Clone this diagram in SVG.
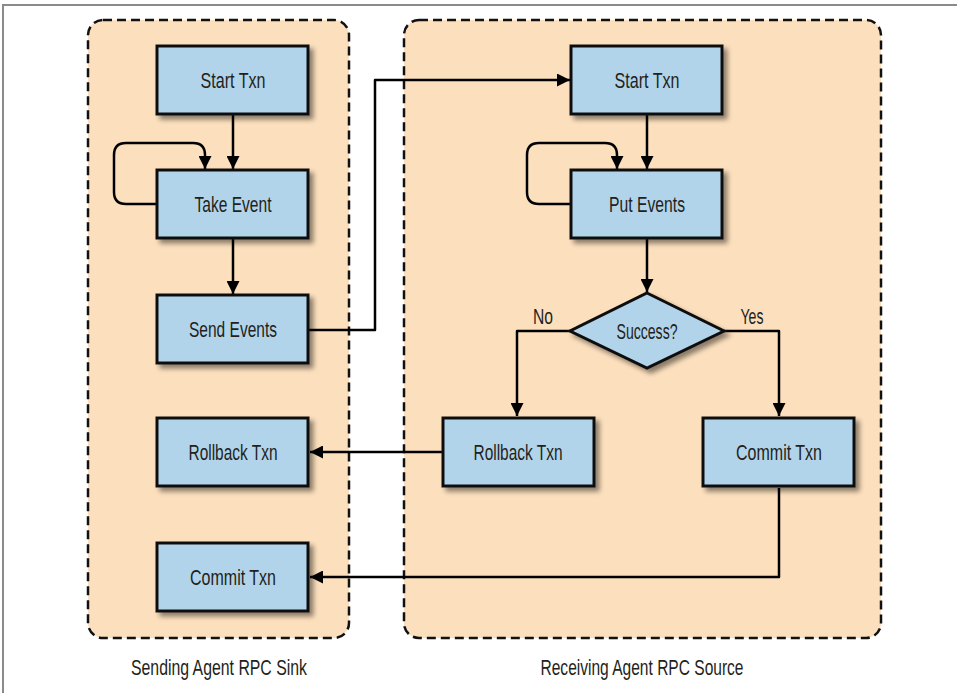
<svg xmlns="http://www.w3.org/2000/svg" width="957" height="693" viewBox="0 0 957 693">
<style>
.frame{fill:none;stroke:#8a8a8a;stroke-width:2}
.grp{fill:#fcdfbd;stroke:#111;stroke-width:2.5;stroke-dasharray:9 5}
.box{fill:#b2d4ea;stroke:#111;stroke-width:3}
.t{font-family:"Liberation Sans Narrow","Liberation Sans",Arial,sans-serif;font-size:22px;fill:#231f20;text-anchor:middle}
.c{fill:none;stroke:#000;stroke-width:2.5;stroke-linejoin:round}
</style>
<defs>
<filter id="sh" x="-20%" y="-20%" width="150%" height="150%">
<feGaussianBlur in="SourceAlpha" stdDeviation="2.5"/>
<feOffset dx="4" dy="4" result="b"/>
<feComponentTransfer><feFuncA type="linear" slope="0.45"/></feComponentTransfer>
<feMerge><feMergeNode/><feMergeNode in="SourceGraphic"/></feMerge>
</filter>
<marker id="ah" markerWidth="13" markerHeight="13" viewBox="0 0 13 13" refX="13" refY="6.5" orient="auto" markerUnits="userSpaceOnUse">
<path d="M0,0 L13,6.5 L0,13 Z" fill="#000"/>
</marker>
</defs>
<path class="frame" d="M3,693 V5 H957"/>
<g id="sink-group">
<rect class="grp" x="88" y="20" width="261" height="618" rx="15"/>
<text class="t" x="219" y="675" textLength="176" lengthAdjust="spacingAndGlyphs">Sending Agent RPC Sink</text>
</g>
<g id="source-group">
<rect class="grp" x="404" y="20" width="477" height="618" rx="15"/>
<text class="t" x="642" y="675" textLength="203" lengthAdjust="spacingAndGlyphs">Receiving Agent RPC Source</text>
</g>
<g id="connectors">
<path class="c" d="M233,115 V169" marker-end="url(#ah)"/>
<path class="c" d="M157,204 H126 Q114,204 114,192 V155 Q114,143 126,143 H193 Q205,143 205,155 V169" marker-end="url(#ah)"/>
<path class="c" d="M233,239 V294" marker-end="url(#ah)"/>
<path class="c" d="M309,330 H375 V80 H570" marker-end="url(#ah)"/>
<path class="c" d="M647,115 V169" marker-end="url(#ah)"/>
<path class="c" d="M571,204 H539 Q527,204 527,192 V155 Q527,143 539,143 H605 Q617,143 617,155 V169" marker-end="url(#ah)"/>
<path class="c" d="M647,239 V292" marker-end="url(#ah)"/>
<path class="c" d="M570,331 H517 V416" marker-end="url(#ah)"/>
<path class="c" d="M724,331 H779 V416" marker-end="url(#ah)"/>
<path class="c" d="M443,452 H310" marker-end="url(#ah)"/>
<path class="c" d="M779,488 V577 H310" marker-end="url(#ah)"/>
<text class="t" x="543" y="323.5" textLength="20" lengthAdjust="spacingAndGlyphs">No</text>
<text class="t" x="752" y="323.5" textLength="23" lengthAdjust="spacingAndGlyphs">Yes</text>
</g>
<g id="sink-start">
<rect class="box" filter="url(#sh)" x="157" y="46" width="151" height="68"/>
<text class="t" x="233" y="87.5" textLength="65" lengthAdjust="spacingAndGlyphs">Start Txn</text>
</g>
<g id="sink-take">
<rect class="box" filter="url(#sh)" x="157" y="170" width="151" height="68"/>
<text class="t" x="233" y="211.5" textLength="77" lengthAdjust="spacingAndGlyphs">Take Event</text>
</g>
<g id="sink-send">
<rect class="box" filter="url(#sh)" x="157" y="295" width="151" height="68"/>
<text class="t" x="233" y="336.5" textLength="88" lengthAdjust="spacingAndGlyphs">Send Events</text>
</g>
<g id="sink-rollback">
<rect class="box" filter="url(#sh)" x="157" y="418" width="151" height="68"/>
<text class="t" x="233" y="459.5" textLength="89" lengthAdjust="spacingAndGlyphs">Rollback Txn</text>
</g>
<g id="sink-commit">
<rect class="box" filter="url(#sh)" x="157" y="543" width="151" height="68"/>
<text class="t" x="233" y="584.5" textLength="86" lengthAdjust="spacingAndGlyphs">Commit Txn</text>
</g>
<g id="src-start">
<rect class="box" filter="url(#sh)" x="571" y="46" width="151" height="68"/>
<text class="t" x="647" y="87.5" textLength="65" lengthAdjust="spacingAndGlyphs">Start Txn</text>
</g>
<g id="src-put">
<rect class="box" filter="url(#sh)" x="571" y="170" width="151" height="68"/>
<text class="t" x="647" y="211.5" textLength="76" lengthAdjust="spacingAndGlyphs">Put Events</text>
</g>
<g id="src-success">
<polygon class="box" filter="url(#sh)" points="647,293 724,331 647,368 570,331"/>
<text class="t" x="647" y="338.5" textLength="61" lengthAdjust="spacingAndGlyphs">Success?</text>
</g>
<g id="src-rollback">
<rect class="box" filter="url(#sh)" x="443" y="418" width="151" height="68"/>
<text class="t" x="518" y="459.5" textLength="89" lengthAdjust="spacingAndGlyphs">Rollback Txn</text>
</g>
<g id="src-commit">
<rect class="box" filter="url(#sh)" x="703" y="418" width="151" height="68"/>
<text class="t" x="779" y="459.5" textLength="86" lengthAdjust="spacingAndGlyphs">Commit Txn</text>
</g>
</svg>
